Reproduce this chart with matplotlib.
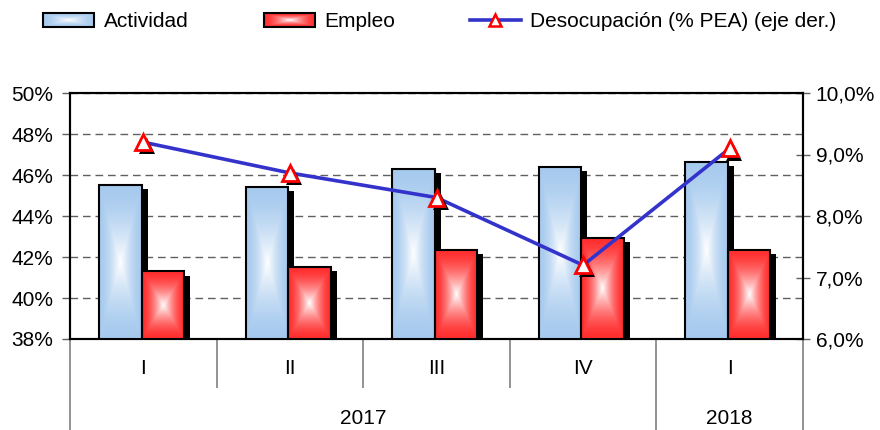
import numpy as np
import matplotlib
matplotlib.use("Agg")
import matplotlib.pyplot as plt
import matplotlib.patheffects as pe
from matplotlib.patches import Patch, Rectangle
from matplotlib.lines import Line2D
from matplotlib.image import BboxImage
from matplotlib.transforms import Bbox, TransformedBbox

plt.rcParams['font.family'] = ['Liberation Sans', 'DejaVu Sans']

trimestres = ["I", "II", "III", "IV", "I"]
anios = ["2017", "2018"]
anio_grupos = [4, 1]
actividad = [45.5, 45.4, 46.3, 46.4, 46.65]
empleo = [41.3, 41.5, 42.35, 42.95, 42.35]
desocupacion = [9.2, 8.7, 8.3, 7.2, 9.1]

azul = np.array([166, 202, 238]) / 255
rojo = np.array([255, 45, 45]) / 255


def gradiente(color, n=60, m=120):
    u = np.abs(np.linspace(-1, 1, n))
    v = np.abs(np.linspace(-1, 1, m))
    t = np.maximum(u[None, :], v[:, None])
    k = (1 - t) ** 1.6
    img = color[None, None, :] * (1 - k[..., None]) + k[..., None]
    return img


class HandlerGradiente:
    def __init__(self, color):
        self.color = color

    def legend_artist(self, legend, orig_handle, fontsize, handlebox):
        x0, y0 = -handlebox.xdescent, -handlebox.ydescent
        wd, ht = handlebox.width, handlebox.height
        bb = TransformedBbox(Bbox.from_bounds(x0, y0, wd, ht), handlebox.get_transform())
        im = BboxImage(bb, interpolation='bilinear')
        im.set_data(gradiente(self.color, 60, 14))
        handlebox.add_artist(im)
        rect = Rectangle((x0, y0), wd, ht, facecolor='none', edgecolor='k',
                         linewidth=1.5, transform=handlebox.get_transform())
        handlebox.add_artist(rect)
        return rect


fig = plt.figure(figsize=(8.8, 4.3), dpi=100)
ax = fig.add_axes([70 / 880, 1 - 339 / 430, 733 / 880, 246 / 430])

xc = np.arange(len(trimestres)) + 0.5
w = 0.29
x_act = xc - 0.012 - w / 2
x_emp = xc - 0.012 + w / 2

sombra = [pe.SimplePatchShadow(offset=(4.3, -3), shadow_rgbFace='k', alpha=1)]
for xs, vals, col in [(x_act, actividad, azul), (x_emp, empleo, rojo)]:
    ax.bar(xs, vals, w, color='k', zorder=2, path_effects=sombra)
    img = gradiente(col)
    for x, v in zip(xs, vals):
        ax.imshow(img, extent=(x - w / 2, x + w / 2, 38, v), aspect='auto',
                  interpolation='bilinear', zorder=3)
    ax.bar(xs, vals, w, facecolor='none', edgecolor='k', linewidth=1.5, zorder=4)

ax.set_xlim(0, len(trimestres))
ax.set_ylim(38, 50)
ax.set_yticks(np.arange(38, 51, 2))
ax.set_yticklabels([f"{v}%" for v in range(38, 51, 2)], fontsize=15)
ax.yaxis.grid(True, linestyle=(0, (5.5, 3.5)), color='#606060', linewidth=1)
ax.set_axisbelow(True)
ax.tick_params(axis='y', direction='out', length=6, width=1, color='#606060', pad=6)

# separadores del eje x
ax.set_xticks([0, 4, 5])
ax.set_xticks([1, 2, 3], minor=True)
ax.tick_params(axis='x', which='major', direction='out', length=66, width=1.2,
               color='#808080', labelbottom=False)
ax.tick_params(axis='x', which='minor', direction='out', length=35, width=1.2,
               color='#808080', labelbottom=False)
tr = ax.get_xaxis_transform()
for x, lab in zip(xc, trimestres):
    ax.text(x, -0.118, lab, transform=tr, ha='center', va='center', fontsize=15)
ini = 0
for lab, n in zip(anios, anio_grupos):
    ax.text(ini + n / 2, -0.325, lab, transform=tr, ha='center', va='center', fontsize=15)
    ini += n

for s in ax.spines.values():
    s.set_linewidth(1.5)

ax2 = ax.twinx()
ax2.set_ylim(6, 10)
ax2.set_yticks(np.arange(6, 10.1, 1))
ax2.set_yticklabels([f"{v:.1f}%".replace('.', ',') for v in np.arange(6, 10.1, 1)], fontsize=15)
ax2.tick_params(axis='y', direction='inout', length=10, width=1, color='#606060', pad=4)
ax2.plot(xc, desocupacion, color='#3333CC', linewidth=2.6, zorder=5)
ax2.plot(xc, desocupacion, linestyle='none', marker='^', markersize=11.5,
         markerfacecolor='white', markeredgecolor='red', markeredgewidth=2, zorder=6,
         path_effects=[pe.SimplePatchShadow(offset=(3, -3), shadow_rgbFace='k', alpha=1),
                       pe.Normal()])
for s in ax2.spines.values():
    s.set_linewidth(1.5)

h_act = Patch(label='Actividad')
h_emp = Patch(label='Empleo')
h_des = Line2D([], [], color='#3333CC', linewidth=2.6, marker='^', markersize=9,
               markerfacecolor='white', markeredgecolor='red', markeredgewidth=1.8,
               label='Desocupación (% PEA) (eje der.)')
fig.legend(handles=[h_act, h_emp, h_des], loc='center', bbox_to_anchor=(0.5, 0.949), ncol=3,
           frameon=False, fontsize=15, handlelength=2.45, handleheight=0.6,
           handletextpad=0.45, columnspacing=3.6,
           handler_map={h_act: HandlerGradiente(azul), h_emp: HandlerGradiente(rojo)})

fig.savefig("out.png", dpi=100)
